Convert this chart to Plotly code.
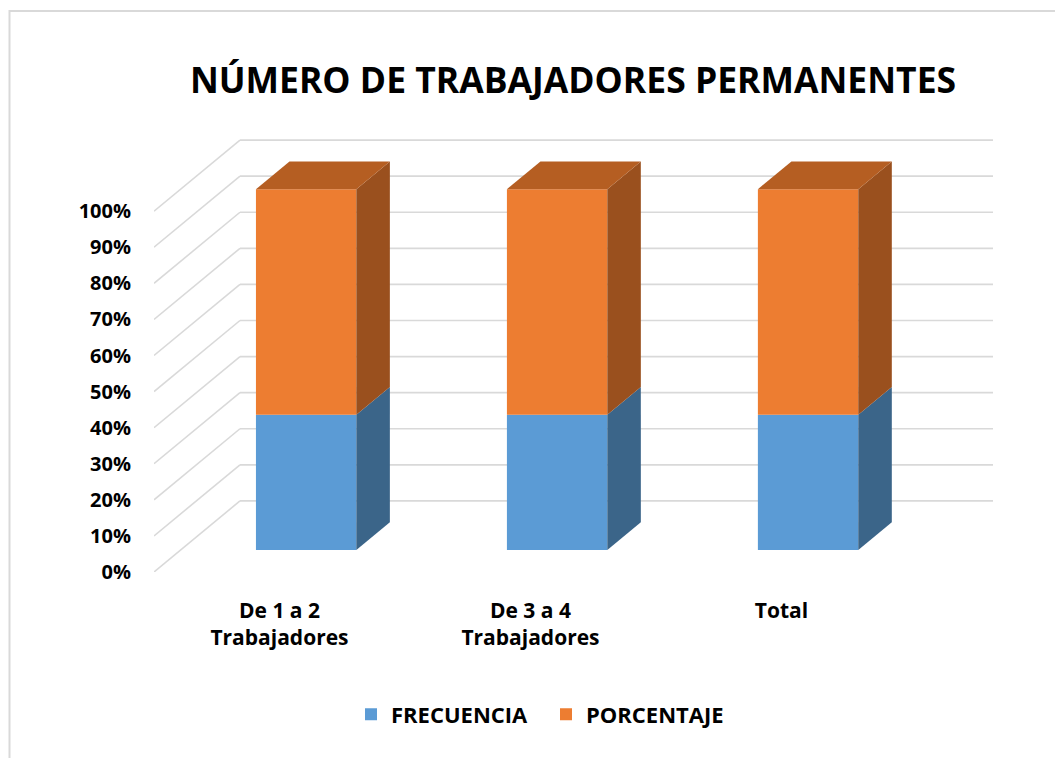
import plotly.graph_objects as go
import numpy as np

# ---- data ----
categories = ["De 1 a 2<br>Trabajadores", "De 3 a 4<br>Trabajadores", "Total"]
frecuencia = [45, 15, 60]
porcentaje = [75, 25, 100]
y_ticks = [0, 10, 20, 30, 40, 50, 60, 70, 80, 90, 100]
y_ticktext = [f"{v}%" for v in y_ticks]

# ---- styling / projection ----
C_BLUE, C_BLUE_SIDE = "#5B9BD5", "#3B6589"
C_OR, C_OR_SIDE, C_OR_TOP = "#ED7D31", "#9A501E", "#B55E22"
GRID = "#D9D9D9"
FONT = "Open Sans"
DEPTH_X, DEPTH_Y = 0.3426, 19.7      # full floor depth in data units
D0, D1 = 0.31, 0.70                  # bar front/back depth fractions
BW = 0.4
OFF = 8                              # page body margin

F = np.array(frecuencia, float)
P = np.array(porcentaje, float)
tot = F + P
pF = 100 * F / tot
pP = 100 * P / tot
idx = np.arange(len(categories))

fx, fy = D0 * DEPTH_X, D0 * DEPTH_Y
sx, sy = (D1 - D0) * DEPTH_X, (D1 - D0) * DEPTH_Y

fig = go.Figure()

# front faces
fig.add_trace(go.Bar(x=idx + fx, y=pF, base=np.full(len(idx), fy), width=BW,
                     marker=dict(color=C_BLUE, line=dict(width=0)), name="FRECUENCIA"))
fig.add_trace(go.Bar(x=idx + fx, y=pP, base=fy + pF, width=BW,
                     marker=dict(color=C_OR, line=dict(width=0)), name="PORCENTAJE"))

# side and top faces
for i in idx:
    xr = i + fx + BW / 2
    xl = i + fx - BW / 2
    segs = [(fy, fy + pF[i], C_BLUE_SIDE), (fy + pF[i], fy + pF[i] + pP[i], C_OR_SIDE)]
    for y0, y1, col in segs:
        fig.add_trace(go.Scatter(x=[xr, xr + sx, xr + sx, xr, xr], y=[y0, y0 + sy, y1 + sy, y1, y0],
                                 fill="toself", fillcolor=col, mode="lines",
                                 line=dict(width=0, color=col), showlegend=False, hoverinfo="skip"))
    yt = fy + pF[i] + pP[i]
    fig.add_trace(go.Scatter(x=[xl, xr, xr + sx, xl + sx, xl], y=[yt, yt, yt + sy, yt + sy, yt],
                             fill="toself", fillcolor=C_OR_TOP, mode="lines",
                             line=dict(width=0, color=C_OR_TOP), showlegend=False, hoverinfo="skip"))

# back wall gridlines and floor diagonals
x0 = -0.5
x_end = 2.843
shapes = []
for v in y_ticks:
    shapes.append(dict(type="line", xref="x", yref="y", x0=x0, y0=v, x1=x0 + DEPTH_X, y1=v + DEPTH_Y,
                       line=dict(color=GRID, width=1.6), layer="below"))
    shapes.append(dict(type="line", xref="x", yref="y", x0=x0 + DEPTH_X, y0=v + DEPTH_Y, x1=x_end, y1=v + DEPTH_Y,
                       line=dict(color=GRID, width=1.6), layer="below"))
# chart border (top and left edges visible)
shapes.append(dict(type="rect", xref="paper", yref="paper",
                   x0=(9.5 - 154) / 839, y0=(572 - 11) / 433, x1=(1075 - 154) / 839, y1=(572 - 770) / 433,
                   line=dict(color=GRID, width=2), fillcolor="rgba(0,0,0,0)", layer="below"))

W, H = 1063 - OFF, 758 - OFF
fig.update_layout(
    width=W, height=H,
    margin=dict(l=154 - OFF, r=70, t=139 - OFF, b=186),
    paper_bgcolor="white", plot_bgcolor="rgba(0,0,0,0)",
    barmode="overlay",
    shapes=shapes,
    title=dict(text="NÚMERO DE TRABAJADORES PERMANENTES", x=(573 - OFF) / W, xref="container", xanchor="center",
               y=1 - (81 - OFF) / H, yref="container", yanchor="middle",
               font=dict(family=FONT, size=35.5, weight="bold", color="#000000")),
    legend=dict(orientation="h", x=(546 - 154) / 839, xanchor="center", y=(572 - 714.5) / 433, yanchor="middle",
                font=dict(family=FONT, size=22, weight="bold", color="#000000"), traceorder="normal",
                entrywidth=150),
    xaxis=dict(range=[x0, x_end], tickmode="array", tickvals=idx, ticktext=categories,
               showgrid=False, zeroline=False, showline=False, ticks="", ticklabelstandoff=24,
               tickfont=dict(family=FONT, size=21, weight="bold", color="#000000"), fixedrange=True),
    yaxis=dict(range=[0, 120], tickmode="array", tickvals=y_ticks, ticktext=y_ticktext,
               showgrid=False, zeroline=False, showline=False, ticks="", ticklabelstandoff=22,
               tickfont=dict(family=FONT, size=20, weight="bold", color="#000000"), fixedrange=True),
    showlegend=True,
)

fig.write_html("out.html")
